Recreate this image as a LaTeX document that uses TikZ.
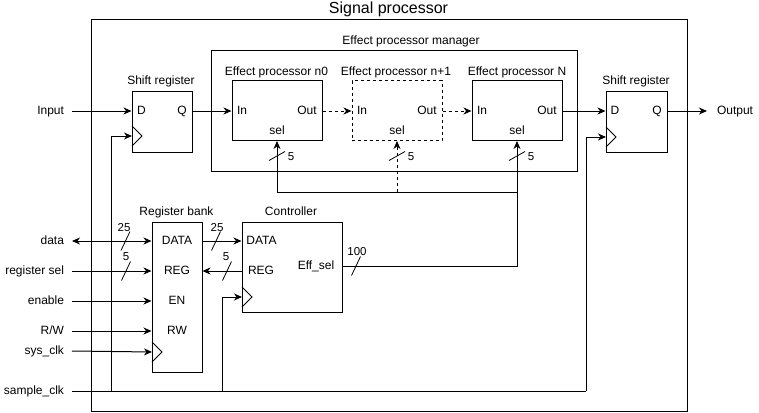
\documentclass[tikz,border=0pt]{standalone}
\usepackage{fontspec}
\setmainfont{Liberation Sans}
\usetikzlibrary{arrows.meta,positioning,calc}

\begin{document}
\begin{tikzpicture}[
      x=1pt, y=-1pt,
      box/.style={draw=black, line width=1pt, inner sep=0pt},
      txt/.style={font=\fontsize{12pt}{14pt}\selectfont, inner sep=0pt, text height=8.5pt, text depth=2.5pt},
      io/.style={txt, anchor=east, outer xsep=8pt},
      wl/.style={txt, font=\fontsize{11.5pt}{13pt}\selectfont},
      wire/.style={line width=1pt},
      arr/.style={wire, -{Stealth[length=8pt, width=7pt, inset=2.5pt]}},
      dbl/.style={wire, {Stealth[length=8pt, width=7pt, inset=2.5pt]}-{Stealth[length=8pt, width=7pt, inset=2.5pt]}},
      dsh/.style={dash pattern=on 3pt off 3pt},
      slash/.style={line width=0.8pt}
  ]
      \useasboundingbox (0,0) rectangle (759,412);

      % SIGNAL PROCESSOR
      \node[box, minimum width=596pt, minimum height=391pt] (sigproc) at (389,215.5) {};
      \node[txt, font=\fontsize{16pt}{18pt}\selectfont] (sigtitle) at (388.5,11) {Signal processor};

      % EFFECT PROCESSOR MANAGER
      \node[box, minimum width=366pt, minimum height=120pt] (mgr) at (394.5,111) {};
      \node[txt] (mgrtitle) at (411,42) {Effect processor manager};

      \node[box, minimum width=90pt, minimum height=60pt] (ep0) at (277,110.5) {};
      \node[box, dsh, minimum width=90pt, minimum height=60pt] (ep1) at (397,110.5) {};
      \node[box, minimum width=90pt, minimum height=60pt] (epN) at (517,110.5) {};
      \node[txt] (ep0title) at (276.5,72) {Effect processor n0};
      \node[txt] (ep1title) at (396,72) {Effect processor n+1};
      \node[txt] (epNtitle) at (517,72) {Effect processor N};

      \foreach \ep/\x in {ep0/277, ep1/397, epN/517} {
        \node[txt] (\ep in) at (\x-35,111) {In};
        \node[txt] (\ep out) at (\x+30,111) {Out};
        \node[txt] (\ep sel) at (\x,131) {sel};
      }

      \draw[arr, dsh] (ep0.east |- ep0out) -- (ep1.west |- ep1in);
      \draw[arr, dsh] (ep1.east |- ep1out) -- (epN.west |- epNin);

      % SHIFT REGISTERS
      \node[box, minimum width=60pt, minimum height=61pt] (sr1) at (162,121.5) {};
      \node[txt] (sr1title) at (161,81) {Shift register};
      \node[txt] (sr1d) at (141.5,111) {D};
      \node[txt] (sr1q) at (182,111) {Q};
      \coordinate (sr1clk) at (132,136);
      \draw[wire] (sr1clk) ++(0,-10) -- ++(10,10) -- ++(-10,10);

      \node[box, minimum width=61pt, minimum height=61pt] (sr2) at (636.5,121.5) {};
      \node[txt] (sr2title) at (636,81) {Shift register};
      \node[txt] (sr2d) at (615,111) {D};
      \node[txt] (sr2q) at (657,111) {Q};
      \coordinate (sr2clk) at (606,137);
      \draw[wire] (sr2clk) ++(0,-10) -- ++(10,10) -- ++(-10,10);

      \node[io] (input) at (72,111) {Input};
      \node[txt, anchor=west, outer xsep=10pt] (output) at (707,111) {Output};

      \draw[arr] (input.east) -- (sr1.west |- sr1d);
      \draw[arr] (sr1.east |- sr1q) -- (ep0.west |- ep0in);
      \draw[arr] (epN.east |- epNout) -- (sr2.west |- sr2d);
      \draw[arr] (sr2.east |- sr2q) -- (output.west);

      % REGISTER BANK
      \node[box, minimum width=50pt, minimum height=150pt] (bank) at (177,297) {};
      \node[txt] (banktitle) at (176.5,212) {Register bank};
      \node[txt] (bkdata) at (177,241) {DATA};
      \node[txt] (bkreg) at (177,271) {REG};
      \node[txt] (bken) at (177,301) {EN};
      \node[txt] (bkrw) at (177,331) {RW};
      \coordinate (bkclk) at (152,352);
      \draw[wire] (bkclk) ++(0,-10) -- ++(10,10) -- ++(-10,10);

      \node[io] (data) at (72,241) {data};
      \node[io] (regsel) at (72,271) {register sel};
      \node[io] (enable) at (72,301) {enable};
      \node[io] (rw) at (72,331) {R/W};
      \node[io] (sysclk) at (72,351) {sys\_clk};
      \node[io] (sampclk) at (72,391) {sample\_clk};

      \draw[dbl] (data.east) -- (bank.west |- bkdata);
      \draw[arr] (regsel.east) -- (bank.west |- bkreg);
      \draw[arr] (enable.east) -- (bank.west |- bken);
      \draw[arr] (rw.east) -- (bank.west |- bkrw);
      \draw[arr] (sysclk.east) -- (bkclk);

      % CONTROLLER
      \node[box, minimum width=100pt, minimum height=90pt] (ctrl) at (292,267) {};
      \node[txt] (ctrltitle) at (291,212) {Controller};
      \node[txt] (ctdata) at (261.5,241) {DATA};
      \node[txt] (ctreg) at (261,271) {REG};
      \node[txt] (ctsel) at (316,266) {Eff\_sel};
      \coordinate (ctclk) at (242,297);
      \draw[wire] (ctclk) ++(0,-10) -- ++(10,10) -- ++(-10,10);

      \draw[arr] (bank.east |- bkdata) -- (ctrl.west |- ctdata);
      \draw[arr] (ctrl.west |- ctreg) -- (bank.east |- bkreg);

      % SELECT BUS
      \coordinate (bus) at (397,192);
      \draw[arr] (ctrl.east |- ctsel) -| (epN.south);
      \draw[wire] (bus) -- (bus -| epN.south);
      \draw[arr] (bus) -| (ep0.south);
      \draw[arr, dsh] (bus) -- (ep1.south);

      % SAMPLE CLOCK
      \coordinate (sr1tap) at (111,391);
      \coordinate (cttap) at (222,391);
      \coordinate (sr2tap) at (586,391);
      \draw[wire] (sampclk.east) -- (sr2tap);
      \draw[arr] (sr1tap) |- (sr1clk);
      \draw[arr] (cttap) |- (ctclk);
      \draw[arr] (sr2tap) |- (sr2clk);

      % BUS WIDTHS
      \foreach \x/\y/\n/\lx/\ly in {125.5/241/25/124/228, 126/271/5/126/257, 216/241/25/217/228, 227/271/5/226/257, 356/266/100/357/252} {
        \draw[slash] (\x-4.5,\y+9.5) -- (\x+4.5,\y-9.5);
        \node[wl] (w\n-\x) at (\lx,\ly) {\n};
      }
      \foreach \x in {277, 397, 517} {
        \draw[slash] (\x-8,160.5) -- (\x+8,151.5);
        \node[wl] (s\x) at (\x+14,157) {5};
      }
  \end{tikzpicture}
\end{document}
